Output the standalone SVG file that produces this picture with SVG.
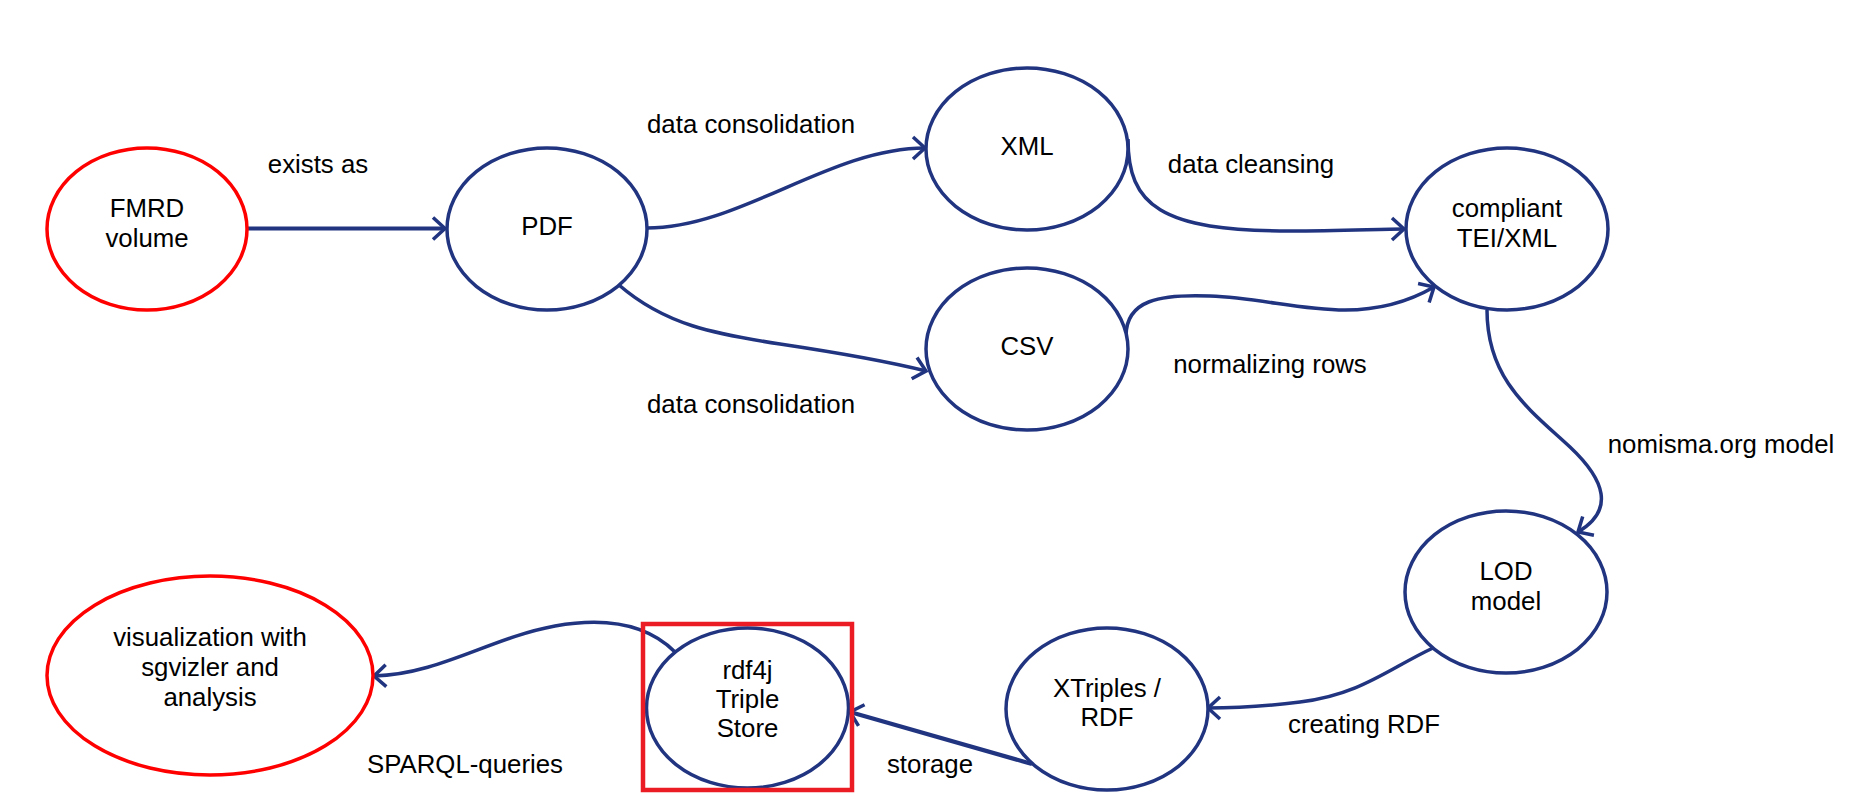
<svg xmlns="http://www.w3.org/2000/svg" width="1862" height="811" viewBox="0 0 1862 811">
<style>
.bg{fill:#ffffff}
.n{fill:#ffffff;stroke:#203480;stroke-width:3.5}
.r{fill:#ffffff;stroke:#ff0000;stroke-width:3.5}
.hl{fill:none;stroke:#ec1c24;stroke-width:4.5}
.t{font-family:"Liberation Sans",Arial,sans-serif;font-size:25.8px;fill:#000000;text-anchor:middle}
.c{fill:none;stroke:#203480;stroke-width:3.5;marker-end:url(#arr)}
.cs{stroke-width:4.2}
</style>
<defs>
<marker id="arr" markerUnits="userSpaceOnUse" markerWidth="30" markerHeight="30" viewBox="-15 -15 30 30" refX="0" refY="0" orient="auto" overflow="visible">
<path d="M-12,-11 L0,0 L-12,11" fill="none" stroke="#203480" stroke-width="3.5"/>
</marker>
</defs>
<rect class="bg" x="0" y="0" width="1862" height="811"/>

<g id="connectors">
<path class="c cs" d="M248,228.5 L445,228.5"/>
<path class="c" d="M647,228 C740,228 830,148 925,148"/>
<path class="c" d="M619,285 C665,325 715,334 780,344 C840,353 890,362 926,371"/>
<path class="c" d="M1128,139 C1128,205 1160,231 1290,231 C1340,231 1380,229 1404,229"/>
<path class="c" d="M1126,336 C1126,300 1160,294 1210,296 C1260,298 1300,310 1345,310 C1385,310 1415,298 1434,287"/>
<path class="c" d="M1487,310 C1487,380 1530,410 1570,447 C1605,480 1615,510 1578,532"/>
<path class="c" d="M1433,648 C1390,668 1360,695 1300,702 C1260,707 1230,708 1208,708"/>
<path class="c cs" d="M1032,764 L850,712"/>
<path class="c" d="M675,652 C645,622 600,618 555,626 C490,638 440,674 374,676"/>
</g>

<g id="labels">
<text class="t" x="318" y="173">exists as</text>
<text class="t" x="751" y="133">data consolidation</text>
<text class="t" x="751" y="413">data consolidation</text>
<text class="t" x="1251" y="173">data cleansing</text>
<text class="t" x="1270" y="373">normalizing rows</text>
<text class="t" x="1721" y="453">nomisma.org model</text>
<text class="t" x="1364" y="733">creating RDF</text>
<text class="t" x="930" y="773">storage</text>
<text class="t" x="465" y="773">SPARQL-queries</text>
</g>

<g id="node-fmrd">
<ellipse class="r" cx="147" cy="229" rx="100" ry="81"/>
<text class="t" x="147" y="217">FMRD</text>
<text class="t" x="147" y="247">volume</text>
</g>
<g id="node-pdf">
<ellipse class="n" cx="547" cy="229" rx="100" ry="81"/>
<text class="t" x="547" y="235">PDF</text>
</g>
<g id="node-xml">
<ellipse class="n" cx="1027" cy="149" rx="101" ry="81"/>
<text class="t" x="1027" y="155">XML</text>
</g>
<g id="node-csv">
<ellipse class="n" cx="1027" cy="349" rx="101" ry="81"/>
<text class="t" x="1027" y="355">CSV</text>
</g>
<g id="node-tei">
<ellipse class="n" cx="1507" cy="229" rx="101" ry="81"/>
<text class="t" x="1507" y="217">compliant</text>
<text class="t" x="1507" y="247">TEI/XML</text>
</g>
<g id="node-lod">
<ellipse class="n" cx="1506" cy="592" rx="101" ry="81"/>
<text class="t" x="1506" y="580">LOD</text>
<text class="t" x="1506" y="610">model</text>
</g>
<g id="node-xtriples">
<ellipse class="n" cx="1107" cy="709" rx="101" ry="81"/>
<text class="t" x="1107" y="697">XTriples /</text>
<text class="t" x="1107" y="726">RDF</text>
</g>
<g id="node-rdf4j">
<ellipse class="n" cx="747.5" cy="708" rx="101" ry="80"/>
<text class="t" x="747.5" y="679">rdf4j</text>
<text class="t" x="747.5" y="708">Triple</text>
<text class="t" x="747.5" y="737">Store</text>
<rect class="hl" x="643" y="624" width="209" height="166"/>
</g>
<g id="node-vis">
<ellipse class="r" cx="210" cy="675.5" rx="163" ry="99.5"/>
<text class="t" x="210" y="646">visualization with</text>
<text class="t" x="210" y="676">sgvizler and</text>
<text class="t" x="210" y="706">analysis</text>
</g>
</svg>
